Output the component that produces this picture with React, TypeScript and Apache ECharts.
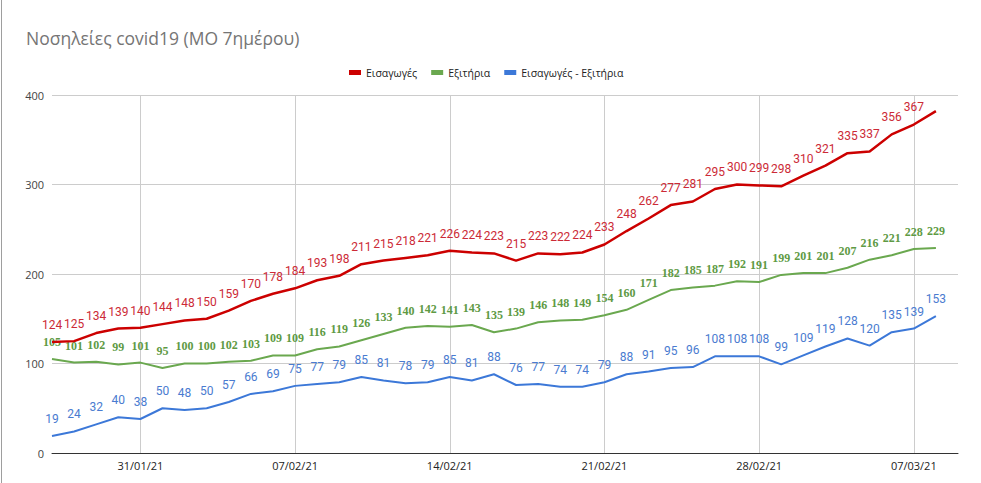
import React, { useEffect, useRef } from "react";
import * as echarts from "echarts";

const dates = [
  "27/01/21", "28/01/21", "29/01/21", "30/01/21", "31/01/21",
  "01/02/21", "02/02/21", "03/02/21", "04/02/21", "05/02/21", "06/02/21", "07/02/21",
  "08/02/21", "09/02/21", "10/02/21", "11/02/21", "12/02/21", "13/02/21", "14/02/21",
  "15/02/21", "16/02/21", "17/02/21", "18/02/21", "19/02/21", "20/02/21", "21/02/21",
  "22/02/21", "23/02/21", "24/02/21", "25/02/21", "26/02/21", "27/02/21", "28/02/21",
  "01/03/21", "02/03/21", "03/03/21", "04/03/21", "05/03/21", "06/03/21", "07/03/21",
  "08/03/21", "09/03/21",
];

const tickLabels = ["31/01/21", "07/02/21", "14/02/21", "21/02/21", "28/02/21", "07/03/21"];

const admissions = [
  124, 125, 134, 139, 140, 144, 148, 150, 159, 170, 178, 184, 193, 198, 211, 215, 218, 221,
  226, 224, 223, 215, 223, 222, 224, 233, 248, 262, 277, 281, 295, 300, 299, 298, 310, 321,
  335, 337, 356, 367, 382,
];

const discharges = [
  105, 101, 102, 99, 101, 95, 100, 100, 102, 103, 109, 109, 116, 119, 126, 133, 140, 142,
  141, 143, 135, 139, 146, 148, 149, 154, 160, 171, 182, 185, 187, 192, 191, 199, 201, 201,
  207, 216, 221, 228, 229,
];

const difference = [
  19, 24, 32, 40, 38, 50, 48, 50, 57, 66, 69, 75, 77, 79, 85, 81, 78, 79, 85, 81, 88, 76,
  77, 74, 74, 79, 88, 91, 95, 96, 108, 108, 108, 99, 109, 119, 128, 120, 135, 139, 153,
];

const hiddenLabelIdx = [40]; // last admissions label hidden above plot

export default function App() {
  const ref = useRef<HTMLDivElement>(null);
  useEffect(() => {
    if (!ref.current) return;
    const chart = echarts.init(ref.current, null, { renderer: "svg" });
    const sansLabel = (color: string) => ({
      show: true,
      position: "top",
      distance: 11,
      color,
      fontSize: 12,
      fontFamily: "Roboto, Arial, sans-serif",
    });
    chart.setOption({
      animation: false,
      backgroundColor: "#ffffff",
      title: {
        text: "Νοσηλείες covid19 (ΜΟ 7ημέρου)",
        left: 21,
        top: 24,
        textStyle: {
          fontSize: 17.5,
          fontWeight: "normal",
          color: "#757575",
          fontFamily: "'Open Sans', sans-serif",
        },
      },
      legend: {
        top: 62,
        left: 344,
        itemWidth: 12,
        itemHeight: 5,
        itemGap: 14,
        icon: "rect",
        textStyle: { fontSize: 10.5, color: "#222", fontFamily: "'Open Sans', sans-serif" },
        data: ["Εισαγωγές", "Εξιτήρια", "Εισαγωγές - Εξιτήρια"],
      },
      grid: { left: 52, right: 23, top: 95, bottom: 30, containLabel: false },
      xAxis: {
        type: "category",
        data: dates,
        boundaryGap: false,
        axisLine: { lineStyle: { color: "#333", width: 1 } },
        axisTick: { show: false },
        axisLabel: {
          interval: (_i: number, v: string) => tickLabels.includes(v),
          color: "#222",
          fontSize: 11,
          margin: 7,
          fontFamily: "'Open Sans', sans-serif",
        },
        splitLine: {
          show: true,
          interval: (_i: number, v: string) => tickLabels.includes(v),
          lineStyle: { color: "#cccccc", width: 1 },
        },
      },
      yAxis: {
        type: "value",
        min: 0,
        max: 400,
        interval: 100,
        axisLine: { show: false },
        axisTick: { show: false },
        axisLabel: { color: "#444", fontSize: 11, margin: 8, fontFamily: "'Open Sans', sans-serif" },
        splitLine: { lineStyle: { color: "#cccccc", width: 1 } },
      },
      series: [
        {
          name: "Εισαγωγές",
          type: "line",
          data: admissions.map((v, i) =>
            hiddenLabelIdx.includes(i) ? { value: v, label: { show: false } } : v
          ),
          color: "#cc0000",
          lineStyle: { width: 2.5, color: "#cc0000" },
          symbol: "circle",
          symbolSize: 0.1,
          showSymbol: true,
          label: sansLabel("#cc2a36"),
          z: 3,
        },
        {
          name: "Εξιτήρια",
          type: "line",
          data: discharges,
          color: "#6aa84f",
          lineStyle: { width: 2, color: "#6aa84f" },
          symbol: "circle",
          symbolSize: 0.1,
          showSymbol: true,
          label: {
            show: true,
            position: "top",
            distance: 11,
            color: "#5e9a44",
            fontSize: 12,
            fontWeight: "bold",
            fontFamily: "'Liberation Serif', 'DejaVu Serif', serif",
          },
          z: 2,
        },
        {
          name: "Εισαγωγές - Εξιτήρια",
          type: "line",
          data: difference,
          color: "#3c78d8",
          lineStyle: { width: 2, color: "#3c78d8" },
          symbol: "circle",
          symbolSize: 0.1,
          showSymbol: true,
          label: sansLabel("#4a7bd0"),
          z: 1,
        },
      ],
      graphic: [
        {
          type: "line",
          shape: { x1: 1.5, y1: 0, x2: 1.5, y2: 483 },
          style: { stroke: "#9e9e9e", lineWidth: 1 },
        },
      ],
    });
    return () => chart.dispose();
  }, []);
  return <div ref={ref} style={{ width: 981, height: 483, position: "fixed", left: 0, top: 0 }} />;
}
